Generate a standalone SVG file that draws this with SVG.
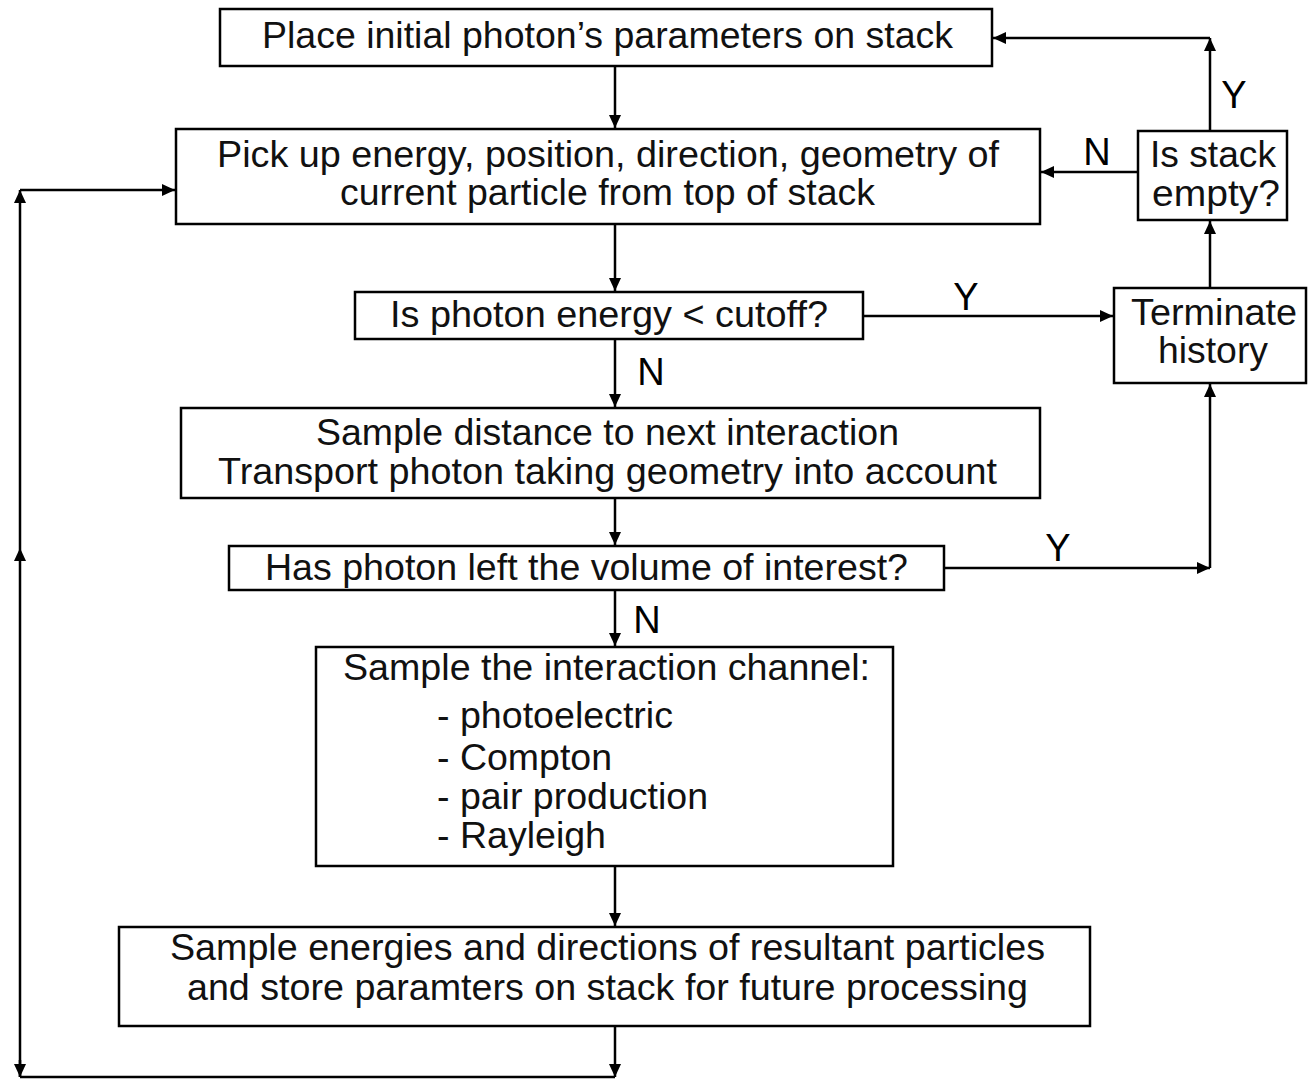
<svg xmlns="http://www.w3.org/2000/svg" width="1308" height="1083" viewBox="0 0 1308 1083">
<defs>
<style>
.box{fill:#fff;stroke:#000;stroke-width:2.5}
.t{font-family:"Liberation Sans",Arial,sans-serif;font-size:36px;fill:#111}
.c{text-anchor:middle}
.lbl{font-family:"Liberation Sans",Arial,sans-serif;font-size:38px;fill:#000;text-anchor:middle}
.ln{fill:none;stroke:#000;stroke-width:2.5}
</style>
<marker id="ah" markerUnits="userSpaceOnUse" markerWidth="14" markerHeight="12" refX="13" refY="6" orient="auto">
<path d="M0,0 L13,6 L0,12 z" fill="#000"/>
</marker>
</defs>
<rect width="1308" height="1083" fill="#fff"/>

<g id="connectors">
<line class="ln" x1="615" y1="66" x2="615" y2="128" marker-end="url(#ah)"/>
<line class="ln" x1="615" y1="224" x2="615" y2="291" marker-end="url(#ah)"/>
<line class="ln" x1="615" y1="339" x2="615" y2="407" marker-end="url(#ah)"/>
<line class="ln" x1="615" y1="498" x2="615" y2="545" marker-end="url(#ah)"/>
<line class="ln" x1="615" y1="590" x2="615" y2="646" marker-end="url(#ah)"/>
<line class="ln" x1="615" y1="866" x2="615" y2="926" marker-end="url(#ah)"/>
<line class="ln" x1="615" y1="1026" x2="615" y2="1077" marker-end="url(#ah)"/>
<line class="ln" x1="615" y1="1077" x2="20" y2="1077"/>
<line class="ln" x1="20" y1="1060" x2="20" y2="1077" marker-end="url(#ah)"/>
<line class="ln" x1="20" y1="1077" x2="20" y2="548" marker-end="url(#ah)"/>
<line class="ln" x1="20" y1="548" x2="20" y2="190" marker-end="url(#ah)"/>
<line class="ln" x1="20" y1="190" x2="175" y2="190" marker-end="url(#ah)"/>
<line class="ln" x1="863" y1="316" x2="1113" y2="316" marker-end="url(#ah)"/>
<line class="ln" x1="944" y1="568" x2="1210" y2="568" marker-end="url(#ah)"/>
<line class="ln" x1="1210" y1="568" x2="1210" y2="384" marker-end="url(#ah)"/>
<line class="ln" x1="1210" y1="288" x2="1210" y2="221" marker-end="url(#ah)"/>
<line class="ln" x1="1210" y1="131" x2="1210" y2="38" marker-end="url(#ah)"/>
<line class="ln" x1="1210" y1="38" x2="993" y2="38" marker-end="url(#ah)"/>
<line class="ln" x1="1138" y1="172" x2="1041" y2="172" marker-end="url(#ah)"/>
<text class="lbl" x="1234" y="108">Y</text>
<text class="lbl" x="1097" y="165">N</text>
<text class="lbl" x="966" y="310">Y</text>
<text class="lbl" x="651" y="385">N</text>
<text class="lbl" x="1058" y="561">Y</text>
<text class="lbl" x="647" y="633">N</text>
</g>

<g id="n1">
<rect class="box" x="220" y="9" width="772" height="57"/>
<text class="t" x="262" y="48" textLength="691" lengthAdjust="spacingAndGlyphs">Place initial photon’s parameters on stack</text>
</g>
<g id="n2">
<rect class="box" x="176" y="129" width="864" height="95"/>
<text class="t" x="217" y="167" textLength="782" lengthAdjust="spacingAndGlyphs">Pick up energy, position, direction, geometry of</text>
<text class="t" x="340" y="205" textLength="535" lengthAdjust="spacingAndGlyphs">current particle from top of stack</text>
</g>
<g id="n3">
<rect class="box" x="355" y="292" width="508" height="47"/>
<text class="t" x="390" y="327" textLength="438" lengthAdjust="spacingAndGlyphs">Is photon energy &lt; cutoff?</text>
</g>
<g id="n4">
<rect class="box" x="181" y="408" width="859" height="90"/>
<text class="t" x="316" y="445" textLength="583" lengthAdjust="spacingAndGlyphs">Sample distance to next interaction</text>
<text class="t" x="218" y="484" textLength="779" lengthAdjust="spacingAndGlyphs">Transport photon taking geometry into account</text>
</g>
<g id="n5">
<rect class="box" x="229" y="546" width="715" height="44"/>
<text class="t" x="265" y="580" textLength="643" lengthAdjust="spacingAndGlyphs">Has photon left the volume of interest?</text>
</g>
<g id="n6">
<rect class="box" x="316" y="647" width="577" height="219"/>
<text class="t" x="343" y="680" textLength="527" lengthAdjust="spacingAndGlyphs">Sample the interaction channel:</text>
<text class="t" x="437" y="728" textLength="236" lengthAdjust="spacingAndGlyphs">- photoelectric</text>
<text class="t" x="437" y="770" textLength="175" lengthAdjust="spacingAndGlyphs">- Compton</text>
<text class="t" x="437" y="809" textLength="271" lengthAdjust="spacingAndGlyphs">- pair production</text>
<text class="t" x="437" y="848" textLength="169" lengthAdjust="spacingAndGlyphs">- Rayleigh</text>
</g>
<g id="n7">
<rect class="box" x="119" y="927" width="971" height="99"/>
<text class="t" x="170" y="960" textLength="875" lengthAdjust="spacingAndGlyphs">Sample energies and directions of resultant particles</text>
<text class="t" x="187" y="1000" textLength="841" lengthAdjust="spacingAndGlyphs">and store paramters on stack for future processing</text>
</g>
<g id="n8">
<rect class="box" x="1138" y="131" width="149" height="89"/>
<text class="t" x="1150" y="167" textLength="126" lengthAdjust="spacingAndGlyphs">Is stack</text>
<text class="t" x="1152" y="206" textLength="128" lengthAdjust="spacingAndGlyphs">empty?</text>
</g>
<g id="n9">
<rect class="box" x="1114" y="288" width="192" height="95"/>
<text class="t" x="1131" y="325" textLength="166" lengthAdjust="spacingAndGlyphs">Terminate</text>
<text class="t" x="1158" y="363" textLength="110" lengthAdjust="spacingAndGlyphs">history</text>
</g>
</svg>
